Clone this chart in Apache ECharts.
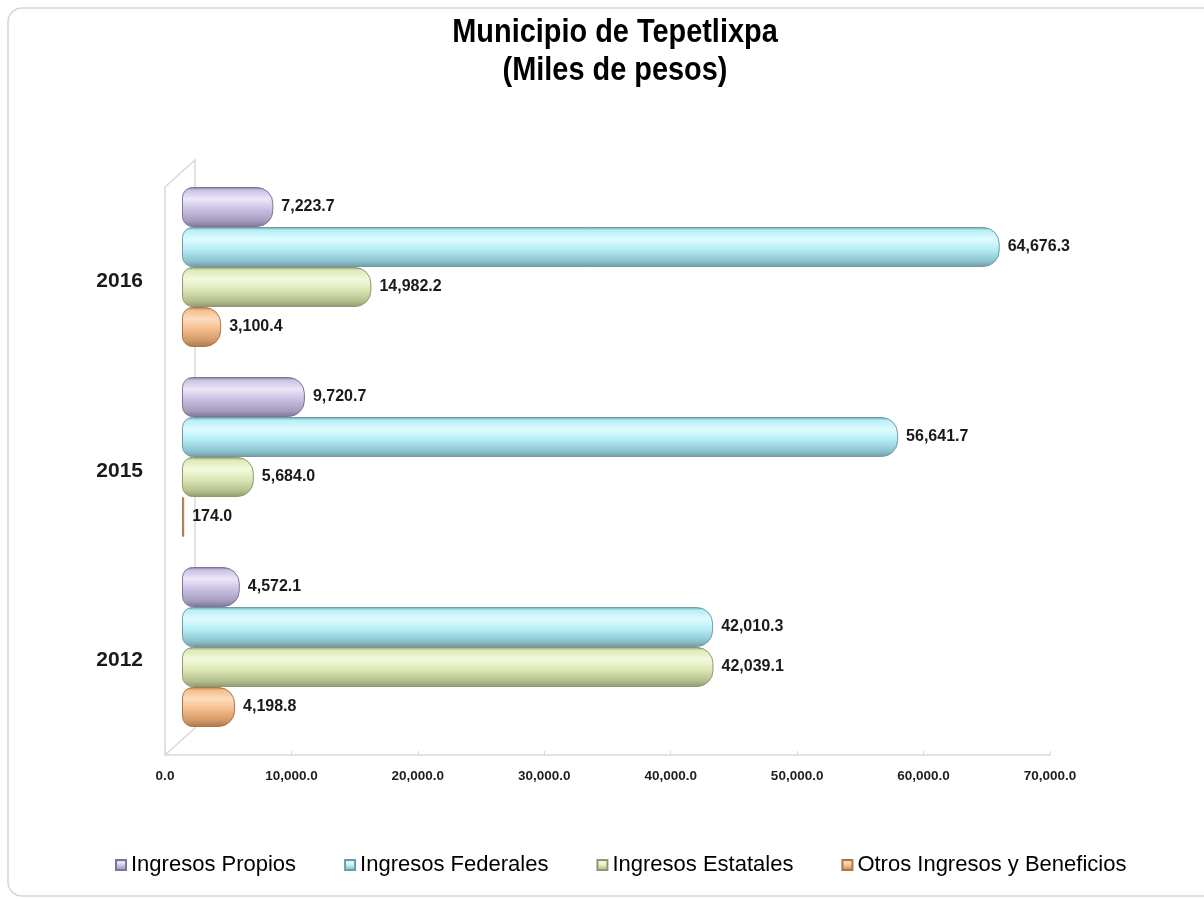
<!DOCTYPE html>
<html>
<head>
<meta charset="utf-8">
<script src="https://cdn.jsdelivr.net/npm/echarts@6/dist/echarts.min.js"></script>
<style>
  html, body { margin: 0; padding: 0; background: #ffffff; }
  #chart { width: 1204px; height: 899px; }
</style>
</head>
<body>
<div id="chart"></div>
<script>
// Revenue of the municipality, thousands of pesos
const years = ['2012', '2015', '2016'];
const seriesNames = ['Ingresos Propios', 'Ingresos Federales', 'Ingresos Estatales', 'Otros Ingresos y Beneficios'];
const ingresosPropios = [4572.1, 9720.7, 7223.7];
const ingresosFederales = [42010.3, 56641.7, 64676.3];
const ingresosEstatales = [42039.1, 5684.0, 14982.2];
const otrosIngresos = [4198.8, 174.0, 3100.4];
const axisMin = 0;
const axisMax = 70000;
const axisStep = 10000;
const titleText = 'Municipio de Tepetlixpa\n(Miles de pesos)';

const regularFont = '"Liberation Sans", Arial, sans-serif';

function fmt(v) {
  return Number(v).toLocaleString('en-US', { minimumFractionDigits: 1, maximumFractionDigits: 1 });
}

// Shaded tube look for each bar
function tube(edge, light, base, dark) {
  return {
    color: new echarts.graphic.LinearGradient(0, 0, 0, 1, [
      { offset: 0, color: edge },
      { offset: 0.08, color: base },
      { offset: 0.3, color: light },
      { offset: 0.55, color: base },
      { offset: 0.85, color: dark },
      { offset: 1, color: edge }
    ]),
    borderColor: edge,
    borderWidth: 1,
    borderRadius: [10, 16, 16, 10]
  };
}

const styles = [
  tube('#7d7594', '#ece7f8', '#cbc1e4', '#a59bbd'),
  tube('#6f9aa3', '#dffcff', '#b6eef7', '#8ec4cf'),
  tube('#8f9870', '#f3f9de', '#dde9b8', '#b5c08e'),
  tube('#a8774a', '#fddcbd', '#f5bd8c', '#cf9666')
];
const values = [ingresosPropios, ingresosFederales, ingresosEstatales, otrosIngresos];

const series = seriesNames.map(function (name, i) {
  return {
    name: name,
    type: 'bar',
    xAxisIndex: 1,
    yAxisIndex: 1,
    data: values[i],
    barWidth: 40,
    barGap: '0%',
    itemStyle: styles[i],
    label: {
      show: true,
      position: 'right',
      distance: 8,
      formatter: function (p) { return fmt(p.value); },
      fontFamily: regularFont,
      fontWeight: 'bold',
      fontSize: 16,
      color: '#1a1a1a'
    }
  };
});

const chart = echarts.init(document.getElementById('chart'), null, { renderer: 'canvas' });

const option = {
  backgroundColor: '#ffffff',
  animation: false,
  legend: {
    data: seriesNames,
    left: 110,
    top: 849,
    itemWidth: 10,
    itemHeight: 10,
    itemGap: 48,
    icon: 'rect',
    textStyle: { fontFamily: regularFont, fontSize: 22, color: '#000000' }
  },
  grid: [
    // front plane: floor edge and value scale
    { left: 165, right: 154, top: 187, bottom: 144 },
    // plane where the tubes sit, one step back in depth
    { left: 182, right: 137, top: 172, bottom: 157 }
  ],
  xAxis: [
    {
      gridIndex: 0,
      type: 'value',
      min: axisMin,
      max: axisMax,
      interval: axisStep,
      axisLine: { show: true, lineStyle: { color: '#d9d9d9', width: 1.5 } },
      axisTick: { show: true, inside: true, length: 4, lineStyle: { color: '#d9d9d9' } },
      splitLine: { show: false },
      axisLabel: {
        margin: 14,
        formatter: fmt,
        fontFamily: regularFont,
        fontWeight: 'bold',
        fontSize: 13.5,
        color: '#1e1e1e'
      }
    },
    {
      gridIndex: 1,
      type: 'value',
      min: axisMin,
      max: axisMax,
      show: false
    }
  ],
  yAxis: [
    {
      gridIndex: 0,
      type: 'category',
      data: years,
      axisLine: { show: true, lineStyle: { color: '#d9d9d9', width: 1.5 } },
      axisTick: { show: false },
      axisLabel: {
        margin: 22,
        fontFamily: regularFont,
        fontWeight: 'bold',
        fontSize: 21,
        color: '#1a1a1a'
      }
    },
    {
      gridIndex: 1,
      type: 'category',
      data: years,
      show: false
    }
  ],
  series: series
};

chart.setOption(option);

// Back wall and side edges of the box, derived from the front plane
const rect = chart.getModel().getComponent('grid', 0).coordinateSystem.getRect();
const dx = 30, dy = -27;
const wall = { stroke: '#d9d9d9', lineWidth: 1.5 };
chart.setOption({
  graphic: [
    {
      type: 'rect',
      shape: { x: 8, y: 8, width: 1220, height: 888, r: 14 },
      style: { fill: 'none', stroke: '#d6d6d6', lineWidth: 1.5 },
      silent: true, z: -10
    },
    {
      type: 'polyline',
      shape: { points: [[rect.x, rect.y], [rect.x + dx, rect.y + dy], [rect.x + dx, rect.y + rect.height + dy], [rect.x, rect.y + rect.height]] },
      style: wall,
      silent: true, z: -5
    },
    {
      // condensed two-line heading
      type: 'text',
      x: 615,
      y: 14,
      scaleX: 0.85,
      silent: true,
      style: {
        text: titleText,
        align: 'center',
        verticalAlign: 'top',
        fontFamily: regularFont,
        fontWeight: 'bold',
        fontSize: 34,
        lineHeight: 38,
        fill: '#000000'
      }
    }
  ]
});
</script>
</body>
</html>
